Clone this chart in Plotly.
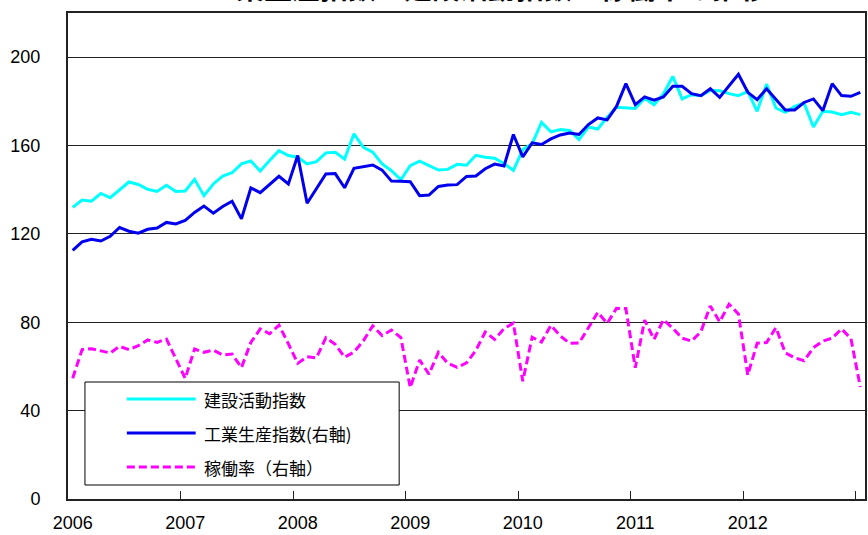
import plotly.graph_objects as go

years = ["2006", "2007", "2008", "2009", "2010", "2011", "2012"]
months = list(range(85))  # Jan 2006 .. Jan 2013

construction = [
    132.0, 135.3, 134.8, 138.3, 136.4, 140.0, 143.5, 142.4, 140.2, 139.2, 142.0, 139.2,
    139.4, 144.7, 137.3, 142.6, 146.2, 147.7, 151.7, 153.0, 148.5, 153.2, 157.7, 155.5,
    154.7, 151.7, 152.7, 156.7, 157.0, 153.9, 165.3, 159.2, 157.0, 151.7, 148.6, 144.5,
    150.9, 152.9, 150.9, 148.9, 149.2, 151.5, 151.1, 155.6, 154.7, 154.3, 151.9, 148.7,
    158.2, 160.8, 170.5, 166.2, 167.2, 166.8, 162.7, 168.4, 167.5, 172.8, 177.3, 177.0,
    176.8, 181.4, 178.5, 183.3, 191.3, 181.1, 183.0, 182.6, 185.0, 184.8, 183.5, 182.6,
    184.5, 175.5, 187.8, 177.0, 175.0, 177.7, 179.2, 168.4, 175.5, 175.2, 174.0, 175.0,
    174.0,
]

industrial = [
    112.6, 116.4, 117.6, 116.8, 118.9, 122.9, 121.2, 120.3, 122.1, 122.7, 125.2, 124.5,
    126.1, 129.7, 132.6, 129.4, 132.4, 134.8, 126.8, 140.8, 138.7, 142.6, 146.1, 142.6,
    155.5, 133.9, 140.3, 147.1, 147.3, 140.9, 149.7, 150.6, 151.2, 148.9, 143.9, 143.8,
    143.6, 137.3, 137.6, 141.5, 142.1, 142.3, 146.0, 146.2, 149.5, 151.6, 150.7, 165.0,
    154.9, 161.2, 160.5, 163.0, 164.8, 165.7, 165.0, 169.5, 172.5, 171.6, 177.7, 188.0,
    178.5, 182.0, 180.5, 182.0, 186.8, 186.8, 183.5, 182.6, 185.7, 181.8, 187.1, 192.3,
    184.1, 180.8, 185.7, 181.1, 176.1, 176.1, 179.5, 181.1, 175.8, 188.0, 182.6, 182.3,
    184.1,
]

utilization = [
    54.7, 67.6, 68.0, 67.1, 66.1, 69.1, 67.6, 69.4, 72.0, 70.9, 72.4, 63.5,
    54.6, 67.9, 66.4, 67.4, 65.2, 65.6, 59.5, 70.9, 77.0, 74.8, 78.7, 70.3,
    61.4, 64.4, 63.9, 73.0, 70.0, 64.2, 66.5, 71.6, 78.4, 74.0, 76.5, 73.1,
    50.4, 62.9, 56.5, 66.4, 61.5, 59.6, 61.6, 67.3, 75.6, 72.2, 77.1, 79.6,
    53.3, 73.2, 71.1, 78.6, 73.8, 70.5, 70.6, 77.5, 84.5, 79.5, 86.3, 86.2,
    59.4, 81.0, 72.3, 81.1, 77.3, 72.8, 71.5, 75.7, 87.4, 80.2, 88.2, 83.8,
    56.1, 70.5, 70.8, 77.6, 66.2, 63.9, 62.6, 68.5, 71.5, 72.8, 77.0, 72.6,
    50.7,
]

series_names = ["建設活動指数", "工業生産指数(右軸)", "稼働率（右軸）"]
title_text = "業生産指数・建設活動指数・稼働率の推移"

colors = ["#00FFFF", "#0000EE", "#FF00FF"]
dashes = ["solid", "solid", "8px,4px"]
widths = [3, 3, 3]

fig = go.Figure()
for name, ys, c, d, w in zip(series_names, [construction, industrial, utilization], colors, dashes, widths):
    fig.add_trace(go.Scatter(x=months, y=ys, mode="lines", name=name,
                             line=dict(color=c, width=w, dash=d), showlegend=False))

W, H = 868, 535
L, R, T, B = 68, 1, 13, 36
pw, ph = W - L - R, H - T - B

def px(xp):
    return (xp - L) / pw

def py(yp):
    return (H - B - yp) / ph

shapes = [dict(type="rect", xref="paper", yref="paper", x0=px(85), x1=px(400), y0=py(485), y1=py(382),
               line=dict(color="black", width=1), fillcolor="white", layer="above")]
annotations = []
row_y = [399, 433, 467]
for name, c, d, yy in zip(series_names, colors, dashes, row_y):
    shapes.append(dict(type="line", xref="paper", yref="paper", x0=px(127), x1=px(196), y0=py(yy), y1=py(yy),
                       line=dict(color=c, width=3, dash="8px,4px" if d != "solid" else "solid"), layer="above"))
    annotations.append(dict(xref="paper", yref="paper", x=px(202), y=py(yy), xanchor="left", yanchor="middle",
                            text=name, showarrow=False,
                            font=dict(family="Noto Sans CJK JP", size=17, color="black")))

annotations.append(dict(xref="paper", yref="paper", x=px(503), y=py(-13), xanchor="center", yanchor="middle",
                        text="<b>" + title_text + "</b>", showarrow=False,
                        font=dict(family="Noto Sans CJK JP", size=28, color="black")))

fig.update_layout(
    width=W, height=H,
    margin=dict(l=L, r=R, t=T, b=B),
    paper_bgcolor="white", plot_bgcolor="white",
    shapes=shapes, annotations=annotations,
    font=dict(family="Liberation Sans", size=18, color="black"),
)
fig.update_xaxes(
    range=[-0.5, 84.5],
    tickmode="array", tickvals=[12 * k for k in range(len(years))], ticktext=years,
    ticks="", showgrid=False, zeroline=False,
    showline=True, linecolor="#222", linewidth=2, mirror=True,
    minor=dict(tickmode="array", tickvals=[12 * k - 0.5 for k in range(1, 8)],
               ticks="inside", ticklen=8, tickcolor="#222", tickwidth=1, showgrid=False),
    tickfont=dict(family="Liberation Sans", size=18),
    ticklabelstandoff=6,
)
fig.update_yaxes(
    range=[0, 220],
    tickmode="array", tickvals=[0, 40, 80, 120, 160, 200],
    ticks="", showgrid=True, gridcolor="#222", gridwidth=1, zeroline=False,
    showline=True, linecolor="#222", linewidth=2, mirror=True,
    tickfont=dict(family="Liberation Sans", size=18),
    ticklabelstandoff=22,
)

fig.write_html("out.html", config={"displayModeBar": False},
               post_script="document.body.style.margin='0';document.body.style.overflow='hidden';")
